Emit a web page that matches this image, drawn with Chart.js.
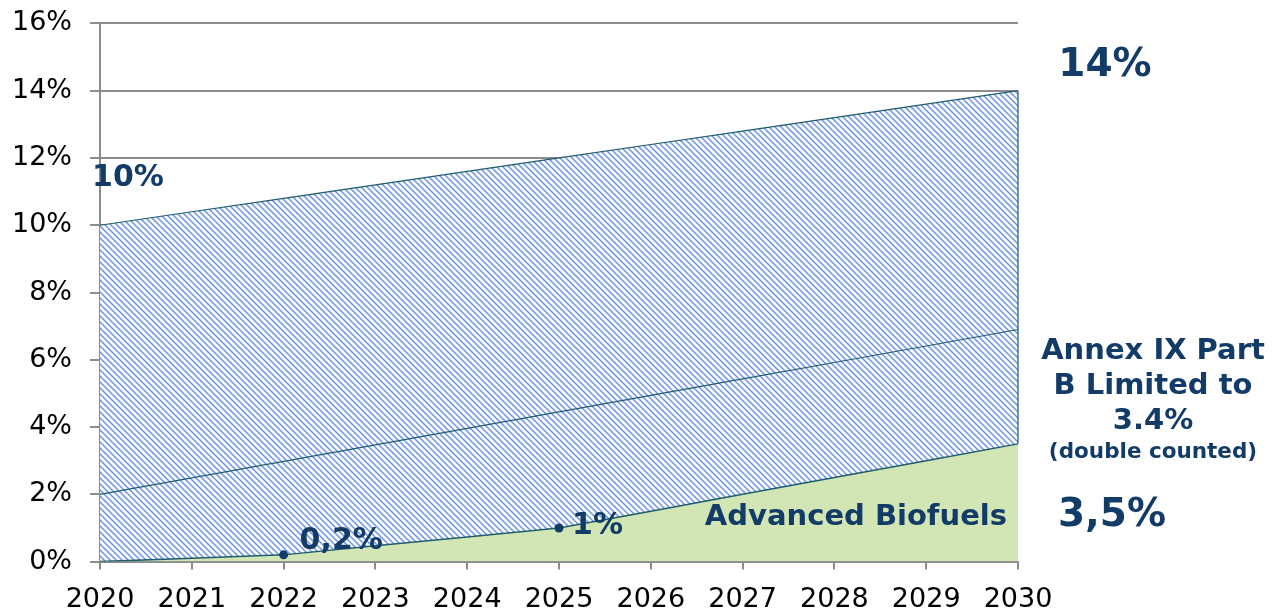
<!DOCTYPE html>
<html>
<head>
<meta charset="utf-8">
<script src="https://cdn.jsdelivr.net/npm/chart.js@4/dist/chart.umd.min.js"></script>
<style>
html,body{margin:0;padding:0;background:#fff;}
#wrap{width:1274px;height:610px;}
</style>
</head>
<body>
<div id="wrap"><canvas id="c" width="1274" height="610"></canvas></div>
<script>
const years = ['2020','2021','2022','2023','2024','2025','2026','2027','2028','2029','2030'];
const advancedBiofuels = [0, 0.1, 0.2, 0.47, 0.73, 1.0, 1.5, 2.0, 2.5, 3.0, 3.5];
const annexPartB = [2.0, 2.49, 2.98, 3.47, 3.96, 4.45, 4.94, 5.43, 5.92, 6.41, 6.9];
const totalTarget = [10, 10.4, 10.8, 11.2, 11.6, 12.0, 12.4, 12.8, 13.2, 13.6, 14.0];
const yTicks = [0, 2, 4, 6, 8, 10, 12, 14, 16];
const markedPoints = [2, 5];
const pointLabels = ['0,2%', '1%'];

const NAVY = '#133b68';
const LINE = '#1f5c6e';
const GRID = '#8c8c8c';
const TICKFONT = '"DejaVu Sans", Verdana, sans-serif';

function hatch(){
  const s = 6;
  const t = document.createElement('canvas');
  t.width = s; t.height = s;
  const g = t.getContext('2d');
  g.fillStyle = '#ffffff';
  g.fillRect(0,0,s,s);
  g.strokeStyle = '#6a93e4';
  g.lineWidth = 1.5;
  for (let k=-1;k<=1;k++){
    g.beginPath();
    g.moveTo(k*s - 1, -1);
    g.lineTo(k*s + s + 1, s + 1);
    g.stroke();
  }
  return document.getElementById('c').getContext('2d').createPattern(t,'repeat');
}
const pat = hatch();

const textPlugin = {
  id:'texts',
  afterDatasetsDraw(chart){
    const ctx = chart.ctx;
    const xs = chart.scales.x, ys = chart.scales.y;
    const ca = chart.chartArea;
    ctx.save();
    ctx.strokeStyle = LINE; ctx.lineWidth = 1.2;
    ctx.beginPath();
    ctx.moveTo(xs.getPixelForValue(10), ys.getPixelForValue(totalTarget[10]));
    ctx.lineTo(xs.getPixelForValue(10), ys.getPixelForValue(advancedBiofuels[10]));
    ctx.stroke();

    ctx.fillStyle = NAVY;
    ctx.textBaseline = 'middle';
    const F = (s)=> 'bold ' + s + 'px "DejaVu Sans", Verdana, sans-serif';
    ctx.textAlign = 'left';
    ctx.font = F(30);
    ctx.fillText('10%', ca.left - 8, 178);
    ctx.fillText(pointLabels[0], xs.getPixelForValue(markedPoints[0]) + 16, 541);
    ctx.fillText(pointLabels[1], xs.getPixelForValue(markedPoints[1]) + 13, 526);
    ctx.textAlign = 'right';
    ctx.font = F(29);
    ctx.fillText('Advanced Biofuels', ca.right - 11, 517);
    ctx.textAlign = 'center';
    ctx.font = F(39);
    ctx.fillText('14%', 1105, 66);
    ctx.fillText('3,5%', 1112, 516);
    ctx.font = F(29);
    ctx.fillText('Annex IX Part', 1153, 351);
    ctx.fillText('B Limited to', 1153, 386);
    ctx.fillText('3.4%', 1153, 421);
    ctx.font = F(21.5);
    ctx.fillText('(double counted)', 1153, 452);
    ctx.restore();
  }
};

new Chart(document.getElementById('c'), {
  type:'line',
  data:{
    labels: years,
    datasets:[
      {
        label:'Advanced Biofuels',
        data: advancedBiofuels,
        fill:'origin',
        backgroundColor:'#d1e6b4',
        borderColor: LINE,
        borderWidth:1.5,
        tension:0,
        pointRadius: advancedBiofuels.map((v,i)=> markedPoints.includes(i) ? 4.5 : 0),
        pointBackgroundColor: NAVY,
        pointBorderColor: NAVY,
        pointBorderWidth: 0,
        order: 1
      },
      {
        label:'Annex IX Part B',
        data: annexPartB,
        fill:'-1',
        backgroundColor: pat,
        borderColor: LINE,
        borderWidth:1.2,
        tension:0,
        pointRadius:0,
        order: 2
      },
      {
        label:'Total',
        data: totalTarget,
        fill:'-1',
        backgroundColor: pat,
        borderColor: LINE,
        borderWidth:1.2,
        tension:0,
        pointRadius:0,
        order: 3
      }
    ]
  },
  options:{
    responsive:false,
    animation:false,
    devicePixelRatio:1,
    layout:{padding:{left:-6, right:256, top:0, bottom:-20}},
    plugins:{legend:{display:false}, tooltip:{enabled:false}},
    scales:{
      x:{
        type:'category',
        offset:false,
        grid:{display:true, drawOnChartArea:false, drawTicks:true, tickLength:8, color:GRID, lineWidth:2},
        border:{display:true, color:GRID, width:2},
        ticks:{color:'#000', font:{family:TICKFONT, size:27}, padding:14, maxRotation:0, autoSkip:false}
      },
      y:{
        min:0, max:16,
        afterBuildTicks(axis){ axis.ticks = yTicks.map(v=>({value:v})); },
        grid:{color:GRID, lineWidth:2, tickLength:10, drawTicks:true},
        border:{display:true, color:GRID, width:2},
        ticks:{color:'#000', font:{family:TICKFONT, size:27, lineHeight:0.4}, padding:18, callback:(v)=> v + '%'}
      }
    }
  },
  plugins:[textPlugin]
});
</script>
</body>
</html>
